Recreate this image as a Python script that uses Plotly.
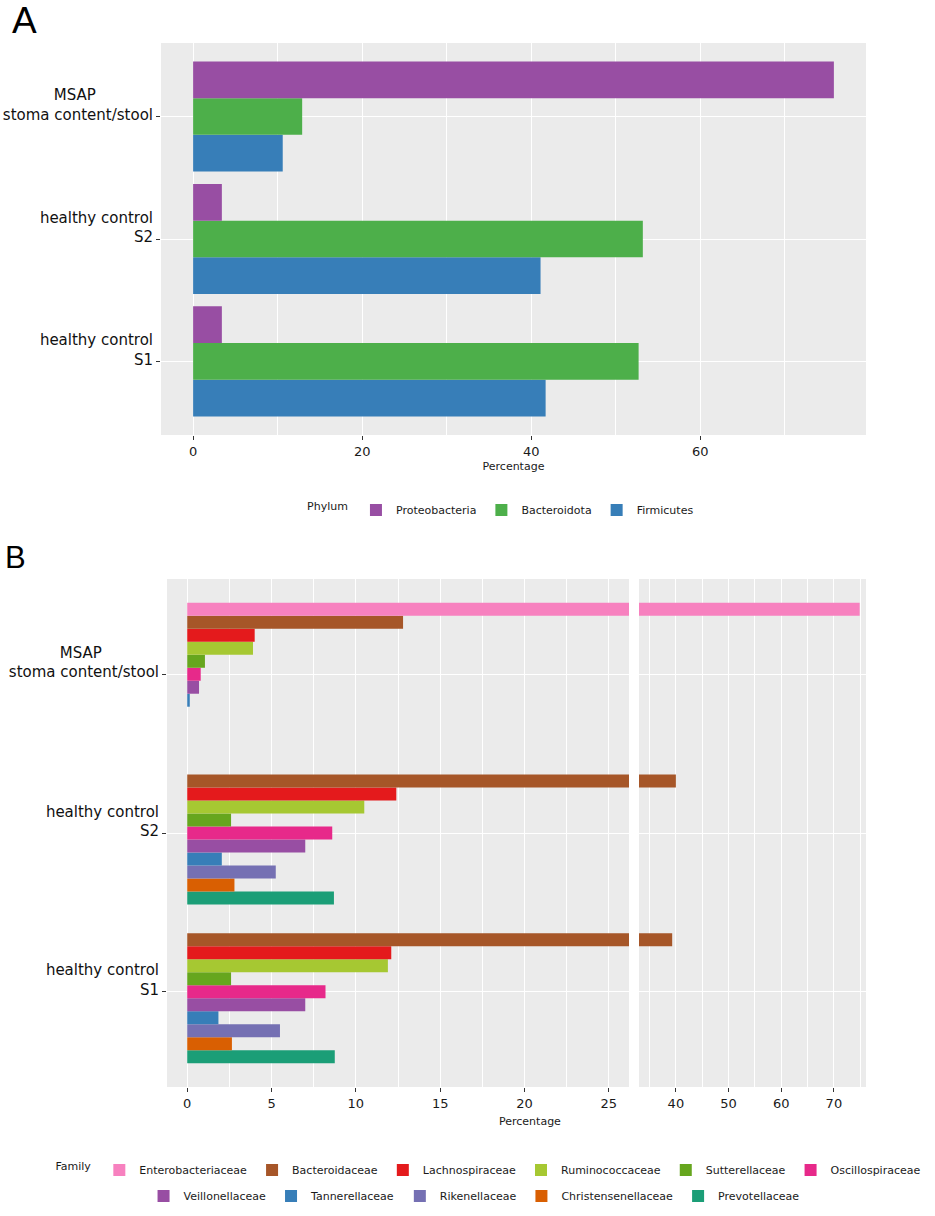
import plotly.graph_objects as go

W, H = 935, 1216

# ---------------- data ----------------
# sample order: bottom -> top on the axis
sample_labels = ["healthy control<br>S1", "healthy control<br>S2", "MSAP<br>stoma content/stool"]

# Panel A: phylum level (%)
phyla = ["Proteobacteria", "Bacteroidota", "Firmicutes"]
phylum_colors = ["#984EA3", "#4DAF4A", "#377EB8"]
proteobacteria = [3.4, 3.4, 75.8]
bacteroidota = [52.7, 53.2, 12.9]
firmicutes = [41.7, 41.1, 10.6]
phylum_values = [proteobacteria, bacteroidota, firmicutes]

# Panel B: family level (%)
families = ["Enterobacteriaceae", "Bacteroidaceae", "Lachnospiraceae", "Ruminococcaceae",
            "Sutterellaceae", "Oscillospiraceae", "Veillonellaceae", "Tannerellaceae",
            "Rikenellaceae", "Christensenellaceae", "Prevotellaceae"]
family_colors = ["#F781BF", "#A65628", "#E41A1C", "#A6C832", "#66A61E", "#E7298A",
                 "#984EA3", "#377EB8", "#7570B3", "#D95F02", "#1B9E77"]
enterobacteriaceae = [0.0, 0.0, 74.9]
bacteroidaceae = [39.3, 40.0, 12.8]
lachnospiraceae = [12.1, 12.4, 4.0]
ruminococcaceae = [11.9, 10.5, 3.9]
sutterellaceae = [2.6, 2.6, 1.05]
oscillospiraceae = [8.2, 8.6, 0.8]
veillonellaceae = [7.0, 7.0, 0.7]
tannerellaceae = [1.85, 2.05, 0.15]
rikenellaceae = [5.5, 5.25, 0.0]
christensenellaceae = [2.65, 2.8, 0.0]
prevotellaceae = [8.75, 8.7, 0.0]
family_values = [enterobacteriaceae, bacteroidaceae, lachnospiraceae, ruminococcaceae,
                 sutterellaceae, oscillospiraceae, veillonellaceae, tannerellaceae,
                 rikenellaceae, christensenellaceae, prevotellaceae]

# ---------------- figure ----------------
FONT = "DejaVu Sans"
fig = go.Figure()

# Panel A traces (added bottom -> top so first listed phylum is on top)
for i in reversed(range(len(phyla))):
    fig.add_trace(go.Bar(
        y=sample_labels, x=phylum_values[i], orientation="h",
        name=phyla[i], marker=dict(color=phylum_colors[i], line=dict(width=0)),
        xaxis="x", yaxis="y", legend="legend", legendrank=i + 1,
    ))

# Panel B traces: left (clipped) and right (broken axis) subplots
for i in reversed(range(len(families))):
    leg = "legend2" if i < 6 else "legend3"
    fig.add_trace(go.Bar(
        y=sample_labels, x=family_values[i], orientation="h",
        name=families[i], marker=dict(color=family_colors[i], line=dict(width=0)),
        xaxis="x2", yaxis="y2", legend=leg, legendrank=i + 1,
    ))
    fig.add_trace(go.Bar(
        y=sample_labels, x=family_values[i], orientation="h",
        name=families[i], marker=dict(color=family_colors[i], line=dict(width=0)),
        xaxis="x3", yaxis="y3", showlegend=False,
    ))

def py(px):
    return 1 - px / H

def px_(x):
    return x / W

# displayed tick text: the "MSAP" line is visually centred over the line below it
tick_text = [lbl.replace("MSAP<br>", "MSAP" + "&nbsp;" * 12 + "<br>") for lbl in sample_labels]

grid = dict(showgrid=True, gridcolor="white", gridwidth=1.3, zeroline=False, showline=False,
            ticks="outside", ticklen=4, tickwidth=1, tickcolor="#333333")
tickfont = dict(family=FONT, size=13, color="#1a1a1a")
ytickfont = dict(family=FONT, size=15, color="#111111")
titlefont = dict(family=FONT, size=11, color="#1a1a1a")

A_dom_y = [py(435), py(43)]
B_dom_y = [py(1087), py(579)]

fig.update_layout(
    width=W, height=H, autosize=False,
    margin=dict(l=0, r=0, t=0, b=0, autoexpand=False),
    paper_bgcolor="white", plot_bgcolor="#EBEBEB",
    barmode="group", bargap=0.1, bargroupgap=0,
    font=dict(family=FONT, color="#1a1a1a"),
    xaxis=dict(domain=[px_(161), px_(866)], anchor="y", range=[-3.8, 79.6],
               tick0=0, dtick=20, tickfont=tickfont,
               title=dict(text="Percentage", font=titlefont, standoff=4),
               minor=dict(dtick=10, tick0=0, showgrid=True, gridcolor="white", gridwidth=0.6, ticks=""),
               **grid),
    yaxis=dict(domain=A_dom_y, anchor="x", type="category", categoryorder="array",
               categoryarray=sample_labels, range=[-0.6, 2.6], tickfont=ytickfont,
               tickmode="array", tickvals=sample_labels, ticktext=tick_text,
               ticklabelshift=-12, **grid),
    xaxis2=dict(domain=[px_(167), px_(629)], anchor="y2", range=[-1.2, 26.2],
                tick0=0, dtick=5, tickfont=tickfont,
                minor=dict(dtick=2.5, tick0=0, showgrid=True, gridcolor="white", gridwidth=0.6, ticks=""),
                **grid),
    yaxis2=dict(domain=B_dom_y, anchor="x2", type="category", categoryorder="array",
                categoryarray=sample_labels, range=[-0.6, 2.6], tickfont=ytickfont,
                tickmode="array", tickvals=sample_labels, ticktext=tick_text,
                ticklabelshift=-12, **grid),
    xaxis3=dict(domain=[px_(639), px_(866)], anchor="y3", range=[33.0, 76.1],
                tick0=0, dtick=10, tickfont=tickfont,
                minor=dict(dtick=5, tick0=0, showgrid=True, gridcolor="white", gridwidth=0.6, ticks=""),
                **grid),
    yaxis3=dict(domain=B_dom_y, anchor="x3", type="category", matches="y2",
                showticklabels=False, showgrid=True, gridcolor="white", gridwidth=1.3,
                zeroline=False, showline=False, ticks=""),
    legend=dict(orientation="h", x=0.537, xanchor="center", y=py(510), yanchor="middle",
                title=dict(text="Phylum", side="left", font=dict(family=FONT, size=11)),
                font=dict(family=FONT, size=11, color="#1a1a1a"), bgcolor="rgba(0,0,0,0)",
                traceorder="normal", itemwidth=30),
    legend2=dict(orientation="h", x=0.524, xanchor="center", y=py(1170), yanchor="middle",
                 title=dict(text="Family", side="left", font=dict(family=FONT, size=11)),
                 font=dict(family=FONT, size=11, color="#1a1a1a"), bgcolor="rgba(0,0,0,0)",
                 traceorder="normal", itemwidth=30),
    legend3=dict(orientation="h", x=0.507, xanchor="center", y=py(1196), yanchor="middle",
                 font=dict(family=FONT, size=11, color="#1a1a1a"), bgcolor="rgba(0,0,0,0)",
                 traceorder="normal", itemwidth=30),
    annotations=[
        dict(text="A", x=px_(10), y=py(-2), xref="paper", yref="paper", xanchor="left",
             yanchor="top", showarrow=False, font=dict(family="Liberation Sans", size=37, color="black")),
        dict(text="B", x=px_(3), y=py(538), xref="paper", yref="paper", xanchor="left",
             yanchor="top", showarrow=False, font=dict(family="Liberation Sans", size=31, color="black")),
        dict(text="Percentage", x=px_(530), y=py(1113), xref="paper", yref="paper",
             xanchor="center", yanchor="top", showarrow=False, font=titlefont),
    ],
)

fig.write_html("out.html", config={"displayModeBar": False},
               post_script="document.body.style.margin='0';document.body.style.overflow='hidden';")
